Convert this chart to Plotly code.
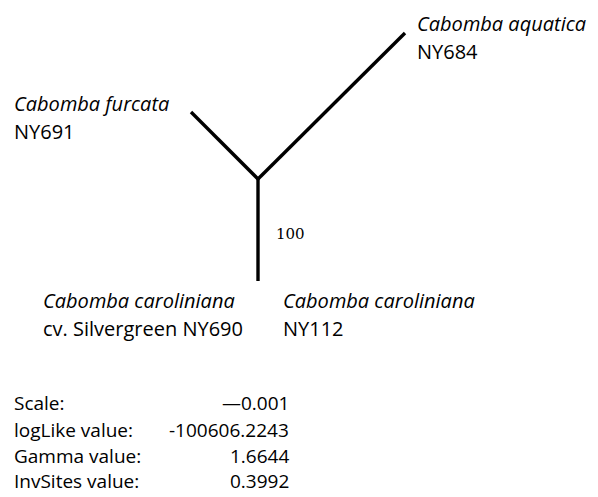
import plotly.graph_objects as go

# Tree nodes (x, y) in layout units (y grows downward)
node_names = ["root", "furcata", "aquatica", "caroliniana"]
node_x = [258, 191, 405, 258]
node_y = [179, 112, 33, 281]
edges = [(0, 1), (0, 2), (0, 3)]

tip_line1 = ["Cabomba furcata", "Cabomba aquatica", "Cabomba caroliniana", "Cabomba caroliniana"]
tip_line2 = ["NY691", "NY684", "cv. Silvergreen NY690", "NY112"]
tip_lx = [12, 415, 41, 281]
tip_ly = [103, 23, 300, 300]

support = ["100"]
support_xy = [(274, 234)]

stat_names = ["Scale:", "logLike value:", "Gamma value:", "InvSites value:"]
stat_values = ["\u20140.001", "-100606.2243", "1.6644", "0.3992"]
stat_y = [403, 430, 456, 481]

fig = go.Figure()
for a, b in edges:
    fig.add_trace(go.Scatter(x=[node_x[a], node_x[b]], y=[node_y[a], node_y[b]],
                             mode="lines", line=dict(color="black", width=3.4),
                             hoverinfo="skip", showlegend=False))

FONT = "Open Sans"
FS = 20
ann = []
for t1, t2, x, y in zip(tip_line1, tip_line2, tip_lx, tip_ly):
    ann.append(dict(x=x, y=y, text="<i>" + t1 + "</i>", xanchor="left", yanchor="middle",
                    showarrow=False, font=dict(family=FONT, size=FS, color="black")))
    ann.append(dict(x=x, y=y + 28, text=t2, xanchor="left", yanchor="middle",
                    showarrow=False, font=dict(family=FONT, size=FS, color="black")))
for s, (x, y) in zip(support, support_xy):
    ann.append(dict(x=x, y=y, text=s, xanchor="left", yanchor="middle", showarrow=False,
                    font=dict(family="DejaVu Serif", size=15, color="black")))
for n, v, y in zip(stat_names, stat_values, stat_y):
    ann.append(dict(x=12, y=y, text=n, xanchor="left", yanchor="middle", showarrow=False,
                    font=dict(family=FONT, size=FS - 1, color="black")))
    ann.append(dict(x=291, y=y, text=v, xanchor="right", yanchor="middle", showarrow=False,
                    font=dict(family=FONT, size=FS - 1, color="black")))

fig.update_layout(
    width=598, height=497,
    margin=dict(l=0, r=0, t=0, b=0),
    paper_bgcolor="white", plot_bgcolor="white",
    xaxis=dict(range=[0, 598], visible=False, fixedrange=True),
    yaxis=dict(range=[497, 0], visible=False, fixedrange=True),
    annotations=ann,
    showlegend=False,
)
fig.write_html("out.html", config={"displayModeBar": False},
               post_script="document.body.style.margin='0';document.body.style.overflow='hidden';")
